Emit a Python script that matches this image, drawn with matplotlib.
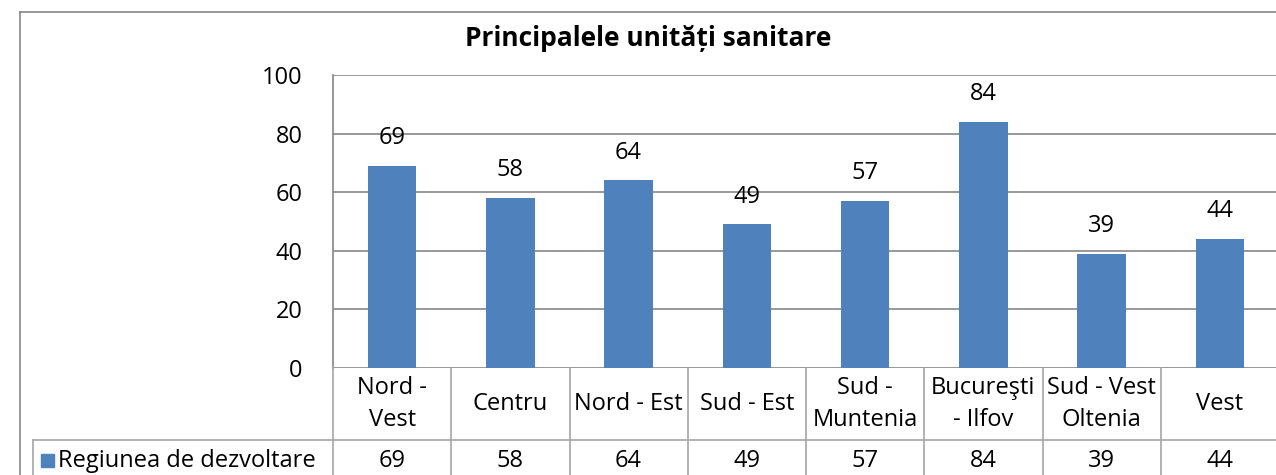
import matplotlib.pyplot as plt
from matplotlib.lines import Line2D
from matplotlib.patches import Rectangle
from matplotlib import transforms

# data
categories = ["Nord -\nVest", "Centru", "Nord - Est", "Sud - Est", "Sud -\nMuntenia",
              "Bucureşti\n- Ilfov", "Sud - Vest\nOltenia", "Vest"]
values = [69, 58, 64, 49, 57, 84, 39, 44]
series_name = "Regiunea de dezvoltare"
yticks = [0, 20, 40, 60, 80, 100]

BAR = "#4F81BD"
GRID = "#868686"
TBL = "#A6A6A6"
FS = 17

plt.rcParams['font.family'] = ['Open Sans', 'DejaVu Sans']

W, H = 1276, 475
fig = plt.figure(figsize=(W / 100, H / 100), dpi=100)


def fy(py):
    return 1 - py / H


def fx(px):
    return px / W


ax = fig.add_axes([fx(333), fy(368), fx(1279) - fx(333), fy(75) - fy(368)])
x = list(range(len(values)))
bars = ax.bar(x, values, width=0.41, color=BAR, zorder=3)
ax.set_xlim(-0.5, len(values) - 0.5)
ax.set_ylim(0, 100)
ax.set_yticks(yticks)
ax.set_yticklabels([str(t) for t in yticks], fontsize=FS)
ax.tick_params(axis='y', length=0, pad=22)
ax.set_xticks([])
ax.grid(axis='y', color=GRID, linewidth=1.2, zorder=0)
for s in ['top', 'right', 'bottom']:
    ax.spines[s].set_visible(False)
ax.spines['left'].set_color(GRID)
ax.spines['left'].set_linewidth(1.2)

for b, v in zip(bars, values):
    ax.annotate(str(v), (b.get_x() + b.get_width() / 2, v), xytext=(0, 20),
                textcoords='offset points', ha='center', va='center', fontsize=FS)

fig.text(fx(648), fy(39), "Principalele unități sanitare", ha='center', va='center',
         fontsize=19, fontweight='bold')

# outer chart border
fig.add_artist(Line2D([fx(20), fx(20)], [fy(12), 0], color=GRID, lw=1.2))
fig.add_artist(Line2D([fx(20), 1.0], [fy(12), fy(12)], color=GRID, lw=1.2))

# data table under the axis
tr = transforms.blended_transform_factory(ax.transData, fig.transFigure)
row1_top, row1_bot = fy(368), fy(440)
for i in range(len(values) + 1):
    xb = i - 0.5
    fig.add_artist(Line2D([xb, xb], [0, row1_top], color=TBL, lw=1.2, transform=tr))
fig.add_artist(Line2D([fx(33), 1.0], [row1_bot, row1_bot], color=TBL, lw=1.2))
fig.add_artist(Line2D([fx(33), fx(33)], [0, row1_bot], color=TBL, lw=1.2))

for i, (c, v) in enumerate(zip(categories, values)):
    fig.text(i, fy(404), c, transform=tr, ha='center', va='center', fontsize=FS,
             linespacing=1.45)
    fig.text(i, fy(461), str(v), transform=tr, ha='center', va='center', fontsize=FS)

fig.add_artist(Rectangle((fx(41), fy(467)), fx(13), fy(454) - fy(467), color=BAR,
                         transform=fig.transFigure))
fig.text(fx(58), fy(461), series_name, ha='left', va='center', fontsize=FS)

fig.savefig("out.png", dpi=100)
